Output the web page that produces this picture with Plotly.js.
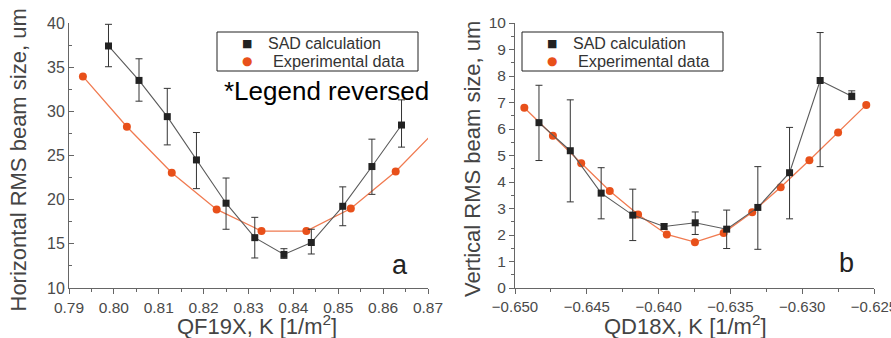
<!DOCTYPE html>
<html>
<head>
<meta charset="utf-8">
<script src="https://cdn.plot.ly/plotly-3.0.1.min.js"></script>
<style>html,body{margin:0;padding:0;background:#fff;}#chart{width:891px;height:338px;}</style>
</head>
<body>
<div id="chart"></div>
<script>
// ---- Panel a: horizontal beam size vs QF19X ----
const aSadK   = [0.7988, 0.8056, 0.8119, 0.8184, 0.8250, 0.8314, 0.8379, 0.8440, 0.8510, 0.8575, 0.8641];
const aSadY   = [37.4, 33.5, 29.4, 24.5, 19.6, 15.7, 13.8, 15.15, 19.25, 23.75, 28.45];
const aSadErrPlus  = [2.45, 2.45, 3.2, 3.1, 2.85, 2.3, 0.65, 1.5, 2.2, 3.1, 2.85];
const aSadErrMinus = [2.35, 2.35, 3.2, 3.25, 2.95, 2.3, 0.45, 1.3, 2.2, 3.15, 2.5];
const aExpK   = [0.7931, 0.8029, 0.8129, 0.8229, 0.8329, 0.8429, 0.8528, 0.8628, 0.8728];
const aExpY   = [33.95, 28.25, 23.05, 18.9, 16.45, 16.45, 19.0, 23.2, 28.4];
const aXTicks = [0.79, 0.80, 0.81, 0.82, 0.83, 0.84, 0.85, 0.86, 0.87];
const aYTicks = [10, 15, 20, 25, 30, 35, 40];

// ---- Panel b: vertical beam size vs QD18X ----
const bSadK   = [-0.64833, -0.64615, -0.6440, -0.6418, -0.63962, -0.63745, -0.63526, -0.63309, -0.63088, -0.62875, -0.62655];
const bSadY   = [6.24, 5.18, 3.58, 2.75, 2.32, 2.46, 2.22, 3.04, 4.35, 7.83, 7.24];
const bSadErrPlus  = [1.41, 1.92, 0.96, 0.98, 0.1, 0.41, 0.72, 1.54, 1.71, 1.81, 0.2];
const bSadErrMinus = [1.43, 1.93, 0.97, 0.96, 0.1, 0.44, 0.73, 1.58, 1.74, 3.25, 0.13];
const bExpK   = [-0.64935, -0.64736, -0.64539, -0.6434, -0.64143, -0.63943, -0.63747, -0.63547, -0.63348, -0.6315, -0.6295, -0.6275, -0.62554];
const bExpY   = [6.8, 5.75, 4.71, 3.66, 2.77, 2.02, 1.73, 2.08, 2.86, 3.8, 4.82, 5.87, 6.91];
const bXTicks = [-0.650, -0.645, -0.640, -0.635, -0.630, -0.625];
const bYTicks = [0, 1, 2, 3, 4, 5, 6, 7, 8, 9, 10];

const seriesNames = ['SAD calculation', 'Experimental data'];
const labels = {
  aY: 'Horizontal RMS beam size, um',
  aX: 'QF19X, K [1/m<sup>2</sup>]',
  bY: 'Vertical RMS beam size, um',
  bX: 'QD18X, K [1/m<sup>2</sup>]',
  note: '*Legend reversed',
  aTag: 'a',
  bTag: 'b'
};

const FONT = 'Liberation Sans, Arial, sans-serif';
const SQ = '#222222', SQLINE = '#5a5a5a', OR = '#e8501a', ORLINE = '#f07a50';
const W = 891, H = 338;
const px = v => v / W, py = v => 1 - v / H;

function sadTrace(x, y, ep, em, xa, ya) {
  return {x, y, xaxis: xa, yaxis: ya, mode: 'lines+markers', name: seriesNames[0], showlegend: false,
    line: {color: SQLINE, width: 1.1},
    marker: {symbol: 'square', size: 7, color: SQ},
    error_y: {type: 'data', symmetric: false, array: ep, arrayminus: em, color: '#333', thickness: 1, width: 3.5}};
}
function expTrace(x, y, xa, ya) {
  return {x, y, xaxis: xa, yaxis: ya, mode: 'lines+markers', name: seriesNames[1], showlegend: false,
    line: {color: ORLINE, width: 1.3},
    marker: {symbol: 'circle', size: 8, color: OR}};
}

const data = [
  expTrace(aExpK, aExpY, 'x', 'y'),
  sadTrace(aSadK, aSadY, aSadErrPlus, aSadErrMinus, 'x', 'y'),
  expTrace(bExpK, bExpY, 'x2', 'y2'),
  sadTrace(bSadK, bSadY, bSadErrPlus, bSadErrMinus, 'x2', 'y2')
];

const tickFont = {family: FONT, size: 16, color: '#4a4a4a'};
function axis(extra) {
  return Object.assign({showgrid: false, zeroline: false, showline: true, linecolor: '#666', linewidth: 1,
    ticks: 'outside', ticklen: 5, tickcolor: '#666', tickwidth: 1, tickfont: tickFont, fixedrange: true,
    automargin: false, ticklabeloverflow: 'allow'}, extra);
}
function mirror(extra) {
  return axis(Object.assign({ticks: 'inside', showticklabels: false}, extra));
}

const aXDom = [px(69), px(428)], bXDom = [px(515), px(874)], yDom = [1 - 288 / H, 1 - 23 / H];

// manual legends (box + symbol glyphs + text)
function legend(x0, x1, y0, y1) {
  const shapes = [{type: 'rect', xref: 'paper', yref: 'paper', x0: px(x0), x1: px(x1), y0: py(y1), y1: py(y0),
    line: {color: '#222', width: 1}, fillcolor: '#fff', layer: 'above'}];
  const ann = [
    {text: '■', x: px(x0 + 30), y: py(43.5), font: {family: 'DejaVu Sans', size: 11, color: SQ}, xanchor: 'center'},
    {text: '●', x: px(x0 + 30), y: py(61.5), font: {family: 'DejaVu Sans', size: 12, color: OR}, xanchor: 'center'},
    {text: seriesNames[0], x: px(x0 + 49), y: py(43.5), font: {family: FONT, size: 16, color: '#333'}, xanchor: 'left'},
    {text: seriesNames[1], x: px(x0 + 54), y: py(61.5), font: {family: FONT, size: 16.3, color: '#333'}, xanchor: 'left'}
  ].map(a => Object.assign({xref: 'paper', yref: 'paper', showarrow: false, yanchor: 'middle'}, a));
  return {shapes, ann};
}
const legA = legend(217, 418, 32, 71);
const legB = legend(522, 723, 32, 71);

const layout = {
  width: W, height: H, margin: {l: 0, r: 0, t: 0, b: 0}, showlegend: false,
  paper_bgcolor: '#fff', plot_bgcolor: '#fff', font: {family: FONT},
  xaxis: axis({domain: aXDom, anchor: 'y', range: [0.79, 0.87], tickvals: aXTicks, tickformat: '.2f',
    tickfont: {family: FONT, size: 15.5, color: '#4a4a4a'}, minor: {dtick: 0.005, ticklen: 3, tickcolor: '#666', ticks: 'outside'}}),
  yaxis: axis({domain: yDom, anchor: 'x', range: [10, 40], tickvals: aYTicks, ticks: 'inside',
    minor: {dtick: 2.5, ticklen: 3, tickcolor: '#666', ticks: 'inside'}}),
  xaxis3: mirror({overlaying: 'x', side: 'top', anchor: 'y', range: [0.79, 0.87], tickvals: aXTicks,
    minor: {dtick: 0.005, ticklen: 3, tickcolor: '#666', ticks: 'inside'}}),
  yaxis3: mirror({overlaying: 'y', side: 'right', anchor: 'x', range: [10, 40], tickvals: aYTicks,
    minor: {dtick: 2.5, ticklen: 3, tickcolor: '#666', ticks: 'inside'}}),
  xaxis2: axis({domain: bXDom, anchor: 'y2', range: [-0.65, -0.625], tickvals: bXTicks, tickformat: '.3f',
    tickfont: {family: FONT, size: 15, color: '#4a4a4a'}, minor: {dtick: 0.0025, ticklen: 3, tickcolor: '#666', ticks: 'outside'}}),
  yaxis2: axis({domain: yDom, anchor: 'x2', range: [0, 10], tickvals: bYTicks,
    tickfont: {family: FONT, size: 15.5, color: '#4a4a4a'}, minor: {dtick: 0.5, ticklen: 3, tickcolor: '#666', ticks: 'outside'}}),
  xaxis4: mirror({overlaying: 'x2', side: 'top', anchor: 'y2', range: [-0.65, -0.625], tickvals: bXTicks,
    minor: {dtick: 0.0025, ticklen: 3, tickcolor: '#666', ticks: 'inside'}}),
  yaxis4: mirror({overlaying: 'y2', side: 'right', anchor: 'x2', range: [0, 10], tickvals: bYTicks,
    minor: {dtick: 0.5, ticklen: 3, tickcolor: '#666', ticks: 'inside'}}),
  shapes: legA.shapes.concat(legB.shapes),
  annotations: [
    {text: labels.aY, xref: 'paper', yref: 'paper', x: px(17.5), y: py(160), textangle: -90, showarrow: false,
      font: {family: FONT, size: 22, color: '#444'}, xanchor: 'center', yanchor: 'middle'},
    {text: labels.aX, xref: 'paper', yref: 'paper', x: px(257), y: py(325), showarrow: false,
      font: {family: FONT, size: 22, color: '#444'}, xanchor: 'center', yanchor: 'middle'},
    {text: labels.bY, xref: 'paper', yref: 'paper', x: px(472), y: py(159), textangle: -90, showarrow: false,
      font: {family: FONT, size: 22, color: '#444'}, xanchor: 'center', yanchor: 'middle'},
    {text: labels.bX, xref: 'paper', yref: 'paper', x: px(685), y: py(325), showarrow: false,
      font: {family: FONT, size: 22, color: '#444'}, xanchor: 'center', yanchor: 'middle'},
    {text: labels.note, xref: 'paper', yref: 'paper', x: px(222), y: py(91), showarrow: false,
      font: {family: FONT, size: 26, color: '#000'}, xanchor: 'left', yanchor: 'middle'},
    {text: labels.aTag, xref: 'paper', yref: 'paper', x: px(400), y: py(265), showarrow: false,
      font: {family: FONT, size: 27, color: '#222'}, xanchor: 'center', yanchor: 'middle'},
    {text: labels.bTag, xref: 'paper', yref: 'paper', x: px(846), y: py(263), showarrow: false,
      font: {family: FONT, size: 27, color: '#222'}, xanchor: 'center', yanchor: 'middle'}
  ].concat(legA.ann, legB.ann)
};

Plotly.newPlot('chart', data, layout, {displayModeBar: false, staticPlot: true});
</script>
</body>
</html>
